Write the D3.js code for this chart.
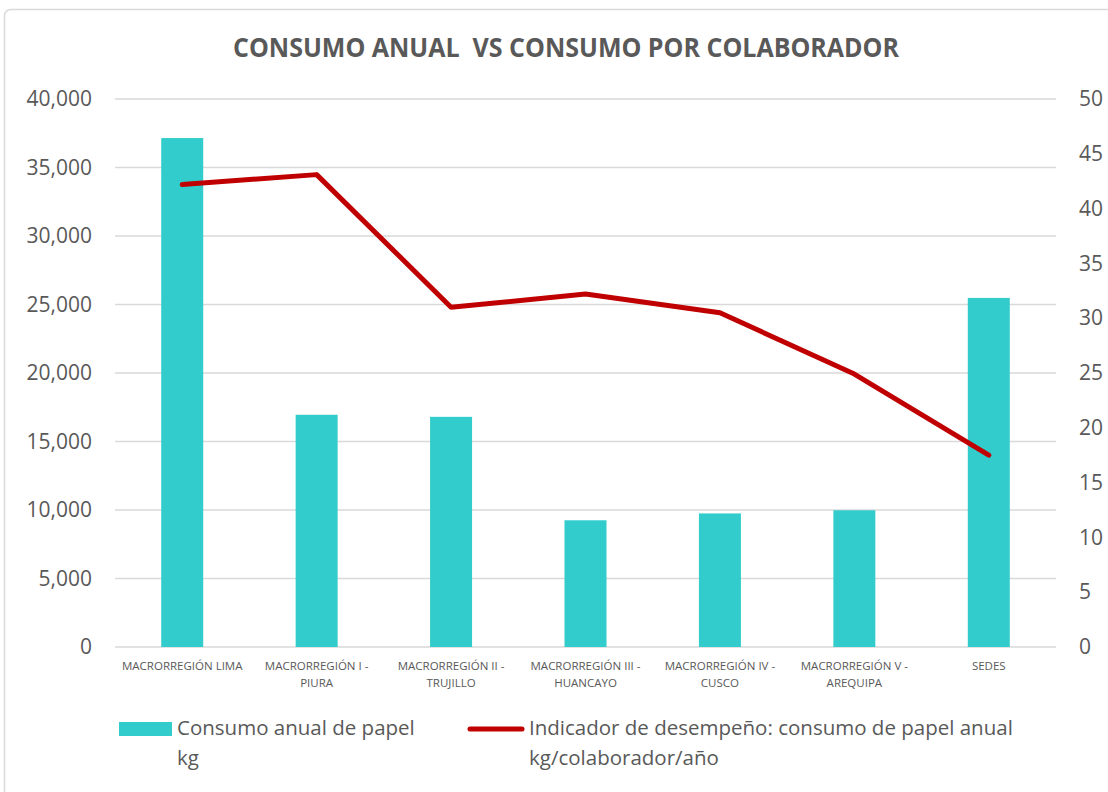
<!DOCTYPE html>
<html>
<head>
<meta charset="utf-8">
<script src="https://cdn.jsdelivr.net/npm/d3@7"></script>
<style>
  body { margin: 0; background: #fff; }
  svg { display: block; font-family: "Open Sans", sans-serif; }
</style>
</head>
<body>
<div id="chart"></div>
<script>
// data
var categories = ["MACRORREGIÓN LIMA", "MACRORREGIÓN I - PIURA", "MACRORREGIÓN II - TRUJILLO",
  "MACRORREGIÓN III - HUANCAYO", "MACRORREGIÓN IV - CUSCO", "MACRORREGIÓN V - AREQUIPA", "SEDES"];
var categoryLines = [["MACRORREGIÓN LIMA"], ["MACRORREGIÓN I -", "PIURA"], ["MACRORREGIÓN II -", "TRUJILLO"],
  ["MACRORREGIÓN III -", "HUANCAYO"], ["MACRORREGIÓN IV -", "CUSCO"], ["MACRORREGIÓN V -", "AREQUIPA"], ["SEDES"]];
var consumoAnual = [37150, 16950, 16800, 9250, 9750, 9980, 25480];
var indicador = [42.2, 43.1, 31.0, 32.2, 30.5, 24.9, 17.5];
var leftTicks = [0, 5000, 10000, 15000, 20000, 25000, 30000, 35000, 40000];
var rightTicks = [0, 5, 10, 15, 20, 25, 30, 35, 40, 45, 50];

var W = 1108, H = 792;
var margin = {top: 99, right: 52, bottom: 145, left: 115},
  width = W - margin.left - margin.right,
  height = H - margin.top - margin.bottom;

var textColor = "#595959";

var svg = d3.select("#chart")
  .append("svg")
  .attr("width", W)
  .attr("height", H);

// chart frame
svg.append("rect")
  .attr("x", 4.5)
  .attr("y", 9.5)
  .attr("width", W + 20)
  .attr("height", H + 20)
  .attr("rx", 6)
  .style("fill", "none")
  .style("stroke", "#d9d9d9")
  .style("stroke-width", 1.5);

// title
svg.append("text")
  .attr("x", 566)
  .attr("y", 57)
  .attr("text-anchor", "middle")
  .attr("textLength", 666)
  .attr("lengthAdjust", "spacingAndGlyphs")
  .style("font-size", "26px")
  .style("font-weight", "bold")
  .style("fill", textColor)
  .text("CONSUMO ANUAL  VS CONSUMO POR COLABORADOR")
  .attr("xml:space", "preserve");

var g = svg.append("g")
  .attr("transform", "translate(" + margin.left + "," + margin.top + ")");

var x = d3.scaleBand()
  .domain(categories)
  .range([0, width]);

var yLeft = d3.scaleLinear()
  .domain([0, 40000])
  .range([height, 0]);

var yRight = d3.scaleLinear()
  .domain([0, 50])
  .range([height, 0]);

// gridlines
g.selectAll(".grid")
  .data(leftTicks)
  .enter()
  .append("line")
  .attr("class", "grid")
  .attr("x1", 0)
  .attr("x2", width)
  .attr("y1", d => yLeft(d))
  .attr("y2", d => yLeft(d))
  .style("stroke", "#d9d9d9")
  .style("stroke-width", 1.5);

// left axis
var leftAxis = g.append("g")
  .call(d3.axisLeft(yLeft).tickValues(leftTicks).tickFormat(d3.format(",")).tickSize(0).tickPadding(23));
leftAxis.select(".domain").remove();
leftAxis.selectAll("text")
  .style("font-size", "21px")
  .style("font-family", "'Open Sans', sans-serif")
  .style("fill", textColor);

// right axis
var rightAxis = g.append("g")
  .attr("transform", "translate(" + width + ",0)")
  .call(d3.axisRight(yRight).tickValues(rightTicks).tickSize(0).tickPadding(23));
rightAxis.select(".domain").remove();
rightAxis.selectAll("text")
  .style("font-size", "21px")
  .style("font-family", "'Open Sans', sans-serif")
  .style("fill", textColor);

// bars
var barW = 42;
g.selectAll(".bar")
  .data(consumoAnual)
  .enter()
  .append("rect")
  .attr("class", "bar")
  .attr("x", (d, i) => x(categories[i]) + x.bandwidth() / 2 - barW / 2)
  .attr("y", d => yLeft(d))
  .attr("width", barW)
  .attr("height", d => height - yLeft(d))
  .style("fill", "#33cccc");

// x labels
var xl = g.selectAll(".xlabel")
  .data(categoryLines)
  .enter()
  .append("text")
  .attr("class", "xlabel")
  .attr("text-anchor", "middle")
  .attr("transform", (d, i) => "translate(" + (x(categories[i]) + x.bandwidth() / 2) + "," + (height + 23) + ")")
  .style("font-size", "11.5px")
  .style("fill", textColor);
xl.selectAll("tspan")
  .data(d => d)
  .enter()
  .append("tspan")
  .attr("x", 0)
  .attr("y", (d, i) => i * 17)
  .text(d => d);

// indicator line
var line = d3.line()
  .x((d, i) => x(categories[i]) + x.bandwidth() / 2)
  .y(d => yRight(d));

g.append("path")
  .datum(indicador)
  .attr("d", line)
  .style("fill", "none")
  .style("stroke", "#c00000")
  .style("stroke-width", 5)
  .style("stroke-linejoin", "round")
  .style("stroke-linecap", "round");

// legend
var legend = svg.append("g");
legend.append("rect")
  .attr("x", 119)
  .attr("y", 722)
  .attr("width", 53)
  .attr("height", 14)
  .style("fill", "#33cccc");
legend.append("text")
  .attr("x", 177)
  .attr("y", 735)
  .style("font-size", "20.5px")
  .style("fill", textColor)
  .selectAll("tspan")
  .data(["Consumo anual de papel", "kg"])
  .enter()
  .append("tspan")
  .attr("x", 177)
  .attr("dy", (d, i) => i ? 30 : 0)
  .text(d => d);

legend.append("line")
  .attr("x1", 470)
  .attr("x2", 522)
  .attr("y1", 729)
  .attr("y2", 729)
  .style("stroke", "#c00000")
  .style("stroke-width", 5)
  .style("stroke-linecap", "round");
legend.append("text")
  .attr("x", 529)
  .attr("y", 735)
  .style("font-size", "20.5px")
  .style("fill", textColor)
  .selectAll("tspan")
  .data(["Indicador de desempeño: consumo de papel anual", "kg/colaborador/año"])
  .enter()
  .append("tspan")
  .attr("x", 529)
  .attr("dy", (d, i) => i ? 30 : 0)
  .text(d => d);
</script>
</body>
</html>
